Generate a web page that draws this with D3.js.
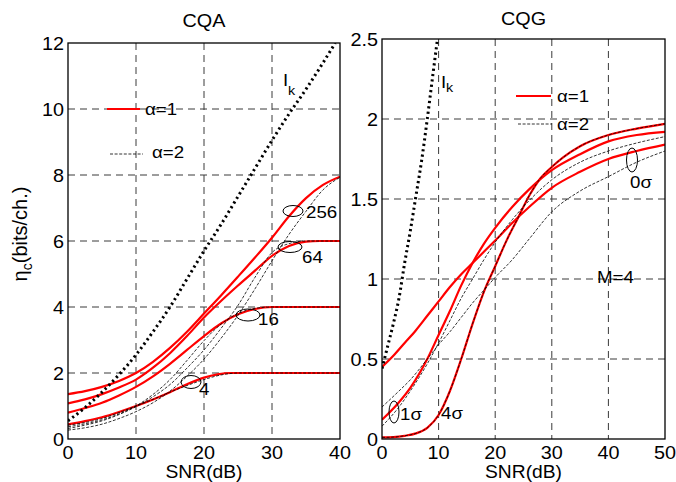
<!DOCTYPE html>
<html>
<head>
<meta charset="utf-8">
<script src="https://cdn.jsdelivr.net/npm/d3@7"></script>
<style>
	body { margin: 0; background: white; }
	text { font-family: "Liberation Sans", Arial, sans-serif; fill: black; }
</style>
</head>
<body>
<script>
"use strict";

//CQA panel data, [SNR(dB), bits/ch.]
let cqaIk = [[0,0.55],[2.5,0.95],[5,1.42],[7.5,1.95],[10,2.55],[12.5,3.25],[15,4.0],[17.5,4.85],[20,5.7],[22.5,6.5],[25,7.35],[27.5,8.2],[30,9.05],[32.5,9.85],[35,10.6],[37.5,11.4],[39.3,12]];
let cqaRed4 = [[0,0.44],[2.5,0.54],[5,0.66],[7.5,0.82],[10,1.0],[12.5,1.2],[15,1.42],[17.5,1.66],[20,1.86],[22,1.96],[24,2],[26,2],[40,2]];
let cqaRed16 = [[0,0.8],[2.5,0.94],[5,1.1],[7.5,1.32],[10,1.58],[12.5,1.9],[15,2.28],[17.5,2.7],[20,3.12],[22.5,3.5],[25,3.78],[27.5,3.94],[30,4],[32,4],[40,4]];
let cqaRed64 = [[0,1.08],[2.5,1.2],[5,1.36],[7.5,1.56],[10,1.8],[12.5,2.16],[15,2.6],[17.5,3.12],[20,3.68],[22.5,4.18],[25,4.65],[27.5,5.1],[30,5.55],[32.5,5.85],[35,5.98],[37,6],[40,6]];
let cqaRed256 = [[0,1.36],[2.5,1.45],[5,1.58],[7.5,1.76],[10,2.0],[12.5,2.34],[15,2.76],[17.5,3.25],[20,3.8],[22.5,4.35],[25,4.92],[27.5,5.5],[30,6.1],[32.5,6.75],[35,7.3],[37.5,7.7],[40,7.95]];
let cqaDash4 = [[0,0.42],[2.5,0.5],[5,0.62],[7.5,0.8],[10,1.0],[12.5,1.2],[15,1.42],[17.5,1.62],[20,1.8],[22.5,1.94],[25,2],[27,2],[40,2]];
let cqaDash16 = [[0,0.37],[2.5,0.46],[5,0.58],[7.5,0.76],[10,1.0],[12.5,1.35],[15,1.8],[17.5,2.38],[20,2.98],[22.5,3.48],[25,3.8],[27.5,3.96],[30,4],[32,4],[40,4]];
let cqaDash64 = [[0,0.32],[2.5,0.42],[5,0.55],[7.5,0.74],[10,0.98],[12.5,1.28],[15,1.65],[17.5,2.15],[20,2.7],[22.5,3.35],[25,4.05],[27.5,4.9],[30,5.65],[32.5,5.92],[35,6],[37,6],[40,6]];
let cqaDash256 = [[0,0.27],[2.5,0.34],[5,0.45],[7.5,0.62],[10,0.83],[12.5,1.1],[15,1.45],[17.5,1.9],[20,2.42],[22.5,3.05],[25,3.75],[27.5,4.55],[30,5.4],[32.5,6.2],[35,6.9],[37.5,7.55],[40,7.93]];

//CQG panel data (M=4)
let cqgIk = [[0,0.44],[1,0.58],[2,0.72],[3,0.88],[4,1.1],[5,1.3],[6,1.52],[7,1.74],[8,2.0],[9,2.28],[9.8,2.5]];
let cqgRed0 = [[0,0.45],[2,0.52],[4,0.6],[6,0.68],[8,0.77],[10,0.86],[12,0.95],[14,1.03],[16,1.1],[18,1.17],[20,1.24],[23,1.35],[26,1.45],[30,1.57],[35,1.67],[40,1.75],[45,1.8],[50,1.84]];
let cqgRed1 = [[0,0.12],[3,0.23],[5,0.32],[8,0.5],[10,0.65],[12,0.8],[14,0.96],[16,1.1],[18,1.22],[20,1.32],[23,1.45],[26,1.56],[30,1.68],[35,1.78],[40,1.86],[45,1.9],[50,1.92]];
let cqgRed4 = [[0,0.01],[2,0.012],[4,0.02],[6,0.035],[8,0.07],[10,0.15],[12,0.3],[14,0.5],[16,0.72],[18,0.92],[20,1.08],[22,1.24],[24,1.38],[26,1.52],[28,1.63],[30,1.7],[32,1.76],[35,1.83],[40,1.9],[45,1.94],[50,1.97]];
let cqgDashA = [[0,0.08],[3,0.2],[5,0.3],[8,0.47],[10,0.6],[12,0.74],[14,0.88],[16,1.0],[18,1.12],[20,1.23],[23,1.37],[26,1.49],[30,1.62],[35,1.73],[40,1.8],[45,1.85],[50,1.89]];
let cqgDashB = [[0,0.2],[3,0.3],[5,0.37],[8,0.5],[10,0.59],[12,0.67],[14,0.76],[16,0.85],[18,0.93],[20,1.01],[23,1.12],[26,1.25],[30,1.42],[35,1.55],[40,1.64],[45,1.73],[50,1.8]];

//tick values
let cqaTicksX = [0, 10, 20, 30, 40];
let cqaTicksY = [0, 2, 4, 6, 8, 10, 12];
let cqgTicksX = [0, 10, 20, 30, 40, 50];
let cqgTicksY = [0, 0.5, 1, 1.5, 2, 2.5];

let svg = d3.select("body").append("svg")
	.attr("width", 676)
	.attr("height", 482);

//text drawn slightly wide, like the source figure
function label(g, x, y, str, size, anchor)
{
	return g.append("text")
		.attr("transform", "translate(" + x + "," + y + ") scale(1.1,1)")
		.attr("font-size", size)
		.attr("text-anchor", anchor || "start")
		.text(str);
}

function panel(box, xDomain, yDomain, xTicks, yTicks, title, id)
{
	let x = d3.scaleLinear().domain(xDomain).range([box.x0, box.x1]);
	let y = d3.scaleLinear().domain(yDomain).range([box.y1, box.y0]);
	let g = svg.append("g");

	svg.append("clipPath").attr("id", id)
		.append("rect")
		.attr("x", box.x0).attr("y", box.y0)
		.attr("width", box.x1 - box.x0).attr("height", box.y1 - box.y0);

	//grid
	let grid = g.append("g")
		.attr("stroke", "#3a3a3a")
		.attr("stroke-width", 1)
		.attr("stroke-dasharray", "7,5");
	for (let t of xTicks.slice(1, -1))
	{
		grid.append("line")
			.attr("x1", x(t)).attr("x2", x(t))
			.attr("y1", box.y0).attr("y2", box.y1);
	}
	for (let t of yTicks.slice(1, -1))
	{
		grid.append("line")
			.attr("x1", box.x0).attr("x2", box.x1)
			.attr("y1", y(t)).attr("y2", y(t));
	}

	//tick labels
	for (let t of xTicks) label(g, x(t), 458.5, String(t), 18, "middle");
	for (let t of yTicks) label(g, box.x0 - 4, y(t) + 6.5, String(t), 18, "end");

	label(g, (box.x0 + box.x1) / 2, 478, "SNR(dB)", 17.5, "middle");
	label(g, (box.x0 + box.x1) / 2, title === "CQA" ? 27 : 25, title, 18, "middle");

	let plot = g.append("g").attr("clip-path", "url(#" + id + ")");
	return { x: x, y: y, g: g, plot: plot, box: box };
}

function curve(p, data, kind)
{
	let line = d3.line()
		.x(d => p.x(d[0]))
		.y(d => p.y(d[1]))
		.curve(d3.curveMonotoneX);
	let path = p.plot.append("path")
		.attr("d", line(data))
		.attr("fill", "none");
	if (kind === "red")
	{
		path.attr("stroke", "#ff0000").attr("stroke-width", 2.2);
	}
	else if (kind === "dash")
	{
		path.attr("stroke", "black").attr("stroke-width", 0.8).attr("stroke-dasharray", "3,1.6");
	}
	else
	{
		path.attr("stroke", "black").attr("stroke-width", 3).attr("stroke-dasharray", "2.2,3.2");
	}
}

function frame(p)
{
	p.g.append("rect")
		.attr("x", p.box.x0).attr("y", p.box.y0)
		.attr("width", p.box.x1 - p.box.x0).attr("height", p.box.y1 - p.box.y0)
		.attr("fill", "none").attr("stroke", "black").attr("stroke-width", 1.3);
}

function ellipse(g, cx, cy, rx, ry)
{
	g.append("ellipse")
		.attr("cx", cx).attr("cy", cy).attr("rx", rx).attr("ry", ry)
		.attr("fill", "none").attr("stroke", "black").attr("stroke-width", 1);
}

//left panel
let left = panel({ x0: 68, x1: 340, y0: 43, y1: 439 }, [0, 40], [0, 12], cqaTicksX, cqaTicksY, "CQA", "clipA");
for (let c of [cqaRed4, cqaRed16, cqaRed64, cqaRed256]) curve(left, c, "red");
for (let c of [cqaDash4, cqaDash16, cqaDash64, cqaDash256]) curve(left, c, "dash");
curve(left, cqaIk, "dot");
frame(left);

//right panel
let right = panel({ x0: 382, x1: 665, y0: 39, y1: 439 }, [0, 50], [0, 2.5], cqgTicksX, cqgTicksY, "CQG", "clipG");
for (let c of [cqgRed0, cqgRed1, cqgRed4]) curve(right, c, "red");
for (let c of [cqgRed4, cqgDashA, cqgDashB]) curve(right, c, "dash");
curve(right, cqgIk, "dot");
frame(right);

//y label
let yl = svg.append("text")
	.attr("transform", "translate(27,234) rotate(-90)")
	.attr("font-size", 20)
	.attr("text-anchor", "middle");
yl.append("tspan").text("η");
yl.append("tspan").attr("font-size", 14).attr("dy", 5).text("c");
yl.append("tspan").attr("dy", -5).text("(bits/ch.)");

//left legend and notes
let ann = svg.append("g");
ann.append("line").attr("x1", 107).attr("x2", 140).attr("y1", 109).attr("y2", 109)
	.attr("stroke", "#ff0000").attr("stroke-width", 2.2);
label(ann, 145, 115, "α=1", 17);
ann.append("line").attr("x1", 110).attr("x2", 143).attr("y1", 154).attr("y2", 154)
	.attr("stroke", "black").attr("stroke-width", 0.8).attr("stroke-dasharray", "3,1.6");
label(ann, 152, 158, "α=2", 17);
label(ann, 283, 86, "I", 17);
label(ann, 288, 95, "k", 13);
ellipse(ann, 293, 211, 10, 5.5);
label(ann, 306, 218, "256", 17);
ellipse(ann, 290, 247, 12, 5.5);
label(ann, 302, 263, "64", 17);
ellipse(ann, 248, 315, 12, 6);
label(ann, 258, 325, "16", 17);
ellipse(ann, 191, 382, 10, 6.5);
label(ann, 199, 395, "4", 17);

//right legend and notes
ann.append("line").attr("x1", 516).attr("x2", 551).attr("y1", 96).attr("y2", 96)
	.attr("stroke", "#ff0000").attr("stroke-width", 2.2);
label(ann, 557, 102, "α=1", 17);
ann.append("line").attr("x1", 518).attr("x2", 552).attr("y1", 124).attr("y2", 124)
	.attr("stroke", "black").attr("stroke-width", 0.8).attr("stroke-dasharray", "3,1.6");
label(ann, 557, 130, "α=2", 17);
label(ann, 441, 88, "I", 17);
label(ann, 446, 92, "k", 13);
ellipse(ann, 632, 160, 5.5, 12);
label(ann, 630, 188, "0σ", 17);
ellipse(ann, 394, 412, 5, 11);
label(ann, 400, 420, "1σ", 17);
label(ann, 441, 419, "4σ", 17);
label(ann, 597, 283, "M=4", 17);
</script>
</body>
</html>
